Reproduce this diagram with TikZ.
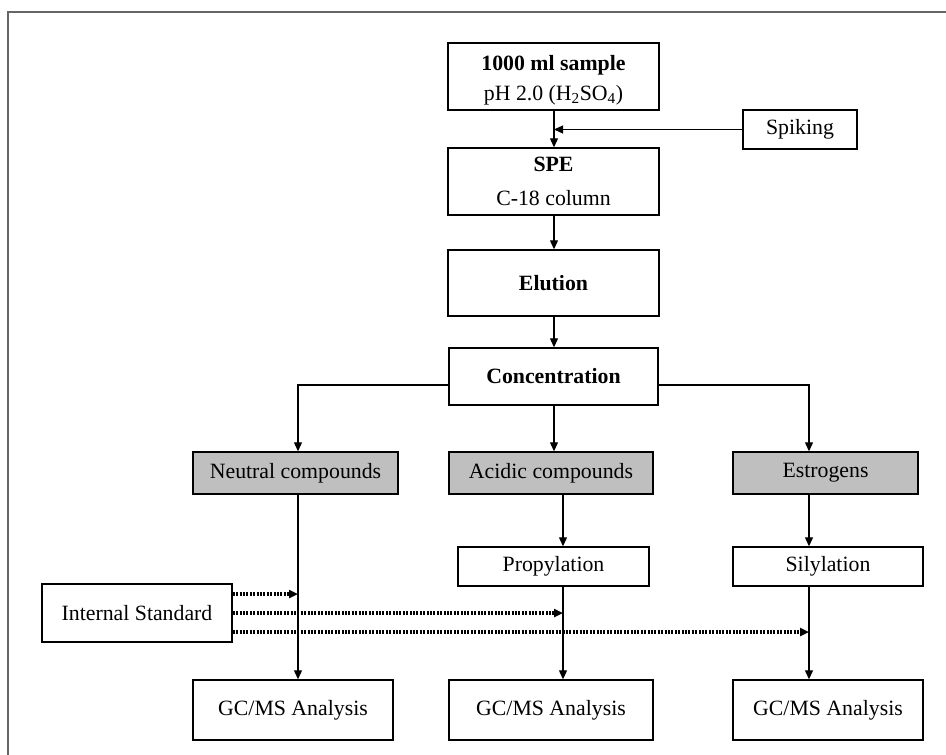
\documentclass[tikz,border=0pt]{standalone}
\usepackage{fontspec}
\setmainfont{Liberation Serif}
\usetikzlibrary{arrows.meta,calc}
\begin{document}
\begin{tikzpicture}[x=1pt,y=-1pt,
  box/.style={draw=black,line width=1.4pt,fill=white,inner sep=0pt,align=center,
    font=\fontsize{21.8}{26}\selectfont},
  graybox/.style={box,fill=black!25},
  arr/.style={line width=1.2pt,-{Triangle[length=9pt,width=8pt]}},
  dotarr/.style={line width=3.2pt,dash pattern=on 2pt off 1.4pt,-{Triangle[length=9pt,width=8pt]}},
  frame/.style={draw=black!60,line width=2.4pt}]
\useasboundingbox (0,0) rectangle (946,755);
\draw[frame] (8,755) -- (8,12) -- (946,12);
\coordinate (cN) at (298,0);
\coordinate (cA) at (554,0);
\coordinate (cA2) at (563,0);
\coordinate (cE) at (809,0);
\node[box,minimum width=211pt,minimum height=67pt] (sample) at (553.5,76.5)
  {\rule{0pt}{22pt}\textbf{1000 ml sample}\\[4pt]pH 2.0 (H\textsubscript{2}SO\textsubscript{4})};
\node[box,minimum width=114pt,minimum height=39pt] (spike) at (800,129.5) {Spiking};
\node[box,minimum width=211pt,minimum height=67pt] (spe) at (553.5,181.5)
  {\textbf{SPE}\\[8pt]C-18 column};
\node[box,minimum width=211pt,minimum height=66pt] (elu) at (553.5,283) {\textbf{Elution}};
\node[box,minimum width=209pt,minimum height=57pt] (conc) at (553.5,376.5) {\textbf{Concentration}};
\node[graybox,minimum width=205pt,minimum height=42pt] (neu) at (295.5,473) {Neutral compounds};
\node[graybox,minimum width=204pt,minimum height=42pt] (acid) at (551,473) {Acidic compounds};
\node[graybox,minimum width=185pt,minimum height=42pt] (estr) at (825.5,473) {Estrogens};
\node[box,minimum width=191pt,minimum height=39pt] (prop) at (553.5,566.5) {Propylation};
\node[box,minimum width=190pt,minimum height=39pt] (sily) at (828,566.5) {Silylation};
\node[box,minimum width=190pt,minimum height=58pt] (istd) at (137,613) {Internal Standard};
\node[box,minimum width=200pt,minimum height=60pt] (gc1) at (293,710) {GC/MS Analysis};
\node[box,minimum width=204pt,minimum height=60pt] (gc2) at (551,710) {GC/MS Analysis};
\node[box,minimum width=190pt,minimum height=60pt] (gc3) at (828,710) {GC/MS Analysis};
% main column
\draw[arr] (sample.south -| cA) -- (spe.north -| cA);
\draw[arr] (spike.west) -- (spike.west -| cA);
\draw[arr] (spe.south -| cA) -- (elu.north -| cA);
\draw[arr] (elu.south -| cA) -- (conc.north -| cA);
% branches
\draw[arr] ([yshift=-8.5pt]conc.west) -| (neu.north -| cN);
\draw[arr] (conc.south -| cA) -- (acid.north -| cA);
\draw[arr] ([yshift=-8.5pt]conc.east) -| (estr.north -| cE);
% lower columns
\draw[arr] (neu.south -| cN) -- (gc1.north -| cN);
\draw[arr] (acid.south -| cA2) -- (prop.north -| cA2);
\draw[arr] (prop.south -| cA2) -- (gc2.north -| cA2);
\draw[arr] (estr.south -| cE) -- (sily.north -| cE);
\draw[arr] (sily.south -| cE) -- (gc3.north -| cE);
% internal standard
\coordinate (is1) at ([yshift=19pt]istd.east);
\coordinate (is2) at (istd.east);
\coordinate (is3) at ([yshift=-19pt]istd.east);
\draw[dotarr] (is1) -- (is1 -| cN);
\draw[dotarr] (is2) -- (is2 -| cA2);
\draw[dotarr] (is3) -- (is3 -| cE);
\end{tikzpicture}
\end{document}
